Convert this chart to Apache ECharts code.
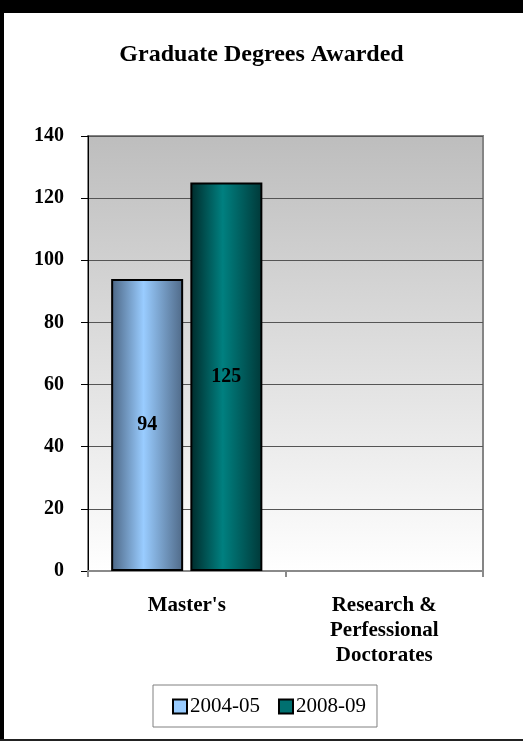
<!DOCTYPE html>
<html>
<head>
<meta charset="utf-8">
<script src="https://cdn.jsdelivr.net/npm/echarts@6/dist/echarts.min.js"></script>
<style>
html,body{margin:0;padding:0;background:#fff;}
#chart{position:absolute;left:0;top:0;width:523px;height:741px;}
.fr{position:absolute;background:#000;pointer-events:none;}
</style>
</head>
<body>
<div id="chart"></div>
<div class="fr" style="left:0;top:0;width:523px;height:13px;"></div>
<div class="fr" style="left:0;top:0;width:4px;height:741px;"></div>
<div class="fr" style="left:0;top:739px;width:523px;height:2px;background:#222;"></div>
<script>
const titleText = 'Graduate Degrees Awarded';
const categories = ["Master's", 'Research &\nPerfessional\nDoctorates'];
const seriesNames = ['2004-05', '2008-09'];
const values0405 = [94, null];
const values0809 = [125, null];
const yTicks = { min: 0, max: 140, interval: 20 };

const serif = '"Liberation Serif", "Times New Roman", serif';

function hGrad(edgeL, center, edgeR) {
  return new echarts.graphic.LinearGradient(0, 0, 1, 0, [
    { offset: 0, color: edgeL },
    { offset: 0.45, color: center },
    { offset: 1, color: edgeR }
  ]);
}

const chart = echarts.init(document.getElementById('chart'));
chart.setOption({
  animation: false,
  backgroundColor: '#ffffff',
  title: {
    text: titleText,
    left: 'center',
    top: 38,
    textStyle: { fontFamily: serif, fontSize: 24, fontWeight: 'bold', color: '#000' }
  },
  legend: {
    data: [
      { name: seriesNames[0], icon: 'rect', itemStyle: { color: '#99ccff', borderColor: '#000', borderWidth: 2 } },
      { name: seriesNames[1], icon: 'rect', itemStyle: { color: '#007070', borderColor: '#000', borderWidth: 2 } }
    ],
    left: 153,
    top: 685,
    padding: [11, 11, 10, 19],
    borderColor: '#808080',
    borderWidth: 1,
    itemWidth: 14,
    itemHeight: 14,
    itemGap: 18,
    textStyle: { fontFamily: serif, fontSize: 21, color: '#000', padding: [0, 0, 0, -2] }
  },
  grid: {
    left: 88,
    right: 40,
    top: 136,
    bottom: 170,
    show: true,
    borderColor: '#858585',
    borderWidth: 2,
    backgroundColor: new echarts.graphic.LinearGradient(0, 0, 0, 1, [
      { offset: 0, color: '#bdbdbd' },
      { offset: 1, color: '#ffffff' }
    ])
  },
  xAxis: {
    type: 'category',
    data: categories,
    axisLine: { lineStyle: { color: '#8a8a8a', width: 2 } },
    axisTick: { show: true, length: 6, lineStyle: { color: '#8a8a8a', width: 2 } },
    axisLabel: {
      interval: 0,
      margin: 22,
      fontFamily: serif,
      fontSize: 21,
      fontWeight: 'bold',
      color: '#000',
      lineHeight: 25
    }
  },
  yAxis: {
    type: 'value',
    min: yTicks.min,
    max: yTicks.max,
    interval: yTicks.interval,
    axisLine: { show: true, lineStyle: { color: '#000', width: 1 } },
    axisTick: { show: true, length: 7, lineStyle: { color: '#000' } },
    splitLine: { show: true, lineStyle: { color: '#555', width: 1 } },
    axisLabel: {
      margin: 24,
      fontFamily: serif,
      fontSize: 20,
      fontWeight: 'bold',
      color: '#000'
    }
  },
  series: [
    {
      name: seriesNames[0],
      type: 'bar',
      data: values0405,
      barWidth: 72,
      barGap: '10%',
      itemStyle: { color: hGrad('#4b6583', '#99ccff', '#4f6987'), borderColor: '#000', borderWidth: 2 },
      label: { show: true, position: 'inside', fontFamily: serif, fontSize: 20, fontWeight: 'bold', color: '#000' }
    },
    {
      name: seriesNames[1],
      type: 'bar',
      data: values0809,
      barWidth: 72,
      barGap: '10%',
      itemStyle: { color: hGrad('#002a2a', '#008080', '#003838'), borderColor: '#000', borderWidth: 2 },
      label: { show: true, position: 'inside', fontFamily: serif, fontSize: 20, fontWeight: 'bold', color: '#000' }
    }
  ]
});
</script>
</body>
</html>
